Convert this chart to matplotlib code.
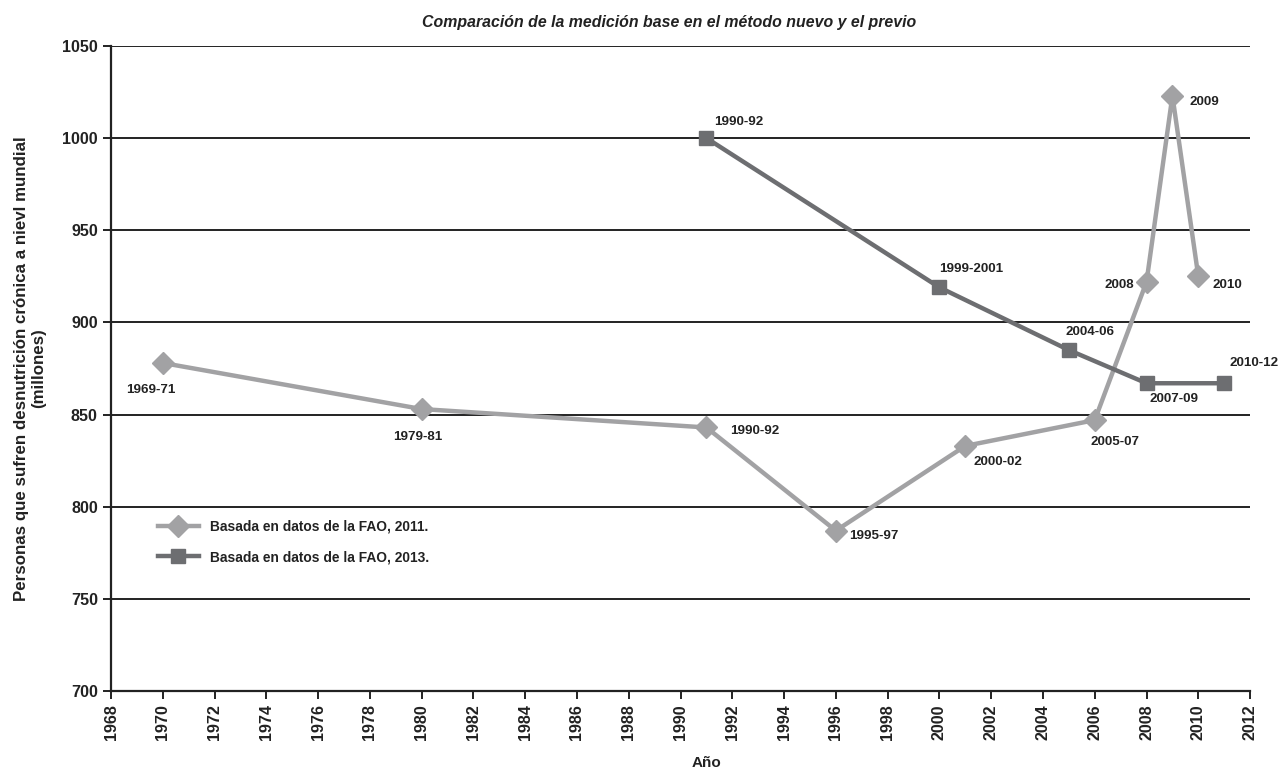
import matplotlib
matplotlib.use("Agg")
import matplotlib.pyplot as plt

plt.rcParams["font.family"] = ["Liberation Sans", "DejaVu Sans"]

# FAO 2011 based series
years_2011 = [1970, 1980, 1991, 1996, 2001, 2006, 2008, 2009, 2010]
values_2011 = [878, 853, 843, 787, 833, 847, 922, 1023, 925]
labels_2011 = ["1969-71", "1979-81", "1990-92", "1995-97", "2000-02", "2005-07", "2008", "2009", "2010"]

# FAO 2013 based series
years_2013 = [1991, 2000, 2005, 2008, 2011]
values_2013 = [1000, 919, 885, 867, 867]
labels_2013 = ["1990-92", "1999-2001", "2004-06", "2007-09", "2010-12"]

# label offsets in pixels (dx, dy, ha)
offsets_2011 = [(-12, -27, "center"), (-4, -28, "center"), (24, -4, "left"), (13, -5, "left"),
                (8, -16, "left"), (-4, -22, "left"), (-12, -3, "right"), (17, -6, "left"), (14, -9, "left")]
offsets_2013 = [(8, 16, "left"), (0, 18, "left"), (-3, 18, "left"), (3, -16, "left"), (5, 20, "left")]

LIGHT = "#a2a2a4"
DARK = "#6d6e71"
INK = "#222222"

fig = plt.figure(figsize=(12.82, 7.74), dpi=100)
ax = fig.add_axes([0.0866, 0.1072, 0.8885, 0.8334])

ax.set_xlim(1968, 2012)
ax.set_ylim(700, 1050)
ax.set_xticks(range(1968, 2013, 2))
ax.set_yticks(range(700, 1051, 50))
for y in range(750, 1051, 50):
    ax.axhline(y, color=INK, lw=1.4, zorder=1)

ax.plot(years_2011, values_2011, color=LIGHT, lw=3.2, marker="D", markersize=11,
        label="Basada en datos de la FAO, 2011.", zorder=3)
ax.plot(years_2013, values_2013, color=DARK, lw=3.2, marker="s", markersize=10,
        label="Basada en datos de la FAO, 2013.", zorder=4)

for x, y, t, (dx, dy, ha) in zip(years_2011, values_2011, labels_2011, offsets_2011):
    ax.annotate(t, (x, y), xytext=(dx, dy), textcoords="offset pixels", ha=ha, va="center",
                fontsize=9.6, fontweight="bold", color=INK)
for x, y, t, (dx, dy, ha) in zip(years_2013, values_2013, labels_2013, offsets_2013):
    ax.annotate(t, (x, y), xytext=(dx, dy), textcoords="offset pixels", ha=ha, va="center",
                fontsize=9.6, fontweight="bold", color=INK)

for side in ["top", "right"]:
    ax.spines[side].set_visible(False)
for side in ["left", "bottom"]:
    ax.spines[side].set_linewidth(1.6)
    ax.spines[side].set_color(INK)

ax.tick_params(axis="x", rotation=90, labelsize=11.6, length=6, width=1.4, colors=INK)
ax.tick_params(axis="y", labelsize=11.6, length=6, width=1.4, colors=INK)
for lab in ax.get_xticklabels() + ax.get_yticklabels():
    lab.set_fontweight("bold")

ax.set_ylabel("Personas que sufren desnutrición crónica a nievl mundial\n(millones)",
              fontsize=12.2, fontweight="bold", color=INK)
ax.yaxis.set_label_coords(-0.057, 0.5)
ax.set_xlabel("Año", fontsize=11, fontweight="bold", color=INK)
ax.xaxis.set_label_coords(0.523, -0.1)

fig.text(0.522, 0.971, "Comparación de la medición base en el método nuevo y el previo",
         ha="center", va="center", fontsize=11.4, fontweight="bold", style="italic", color=INK)

leg = ax.legend(loc="upper left", bbox_to_anchor=(0.03, 0.285), frameon=False,
                fontsize=9.9, handlelength=3, labelspacing=1.2)
for t in leg.get_texts():
    t.set_fontweight("bold")
    t.set_color(INK)

fig.savefig("out.png", dpi=100)
